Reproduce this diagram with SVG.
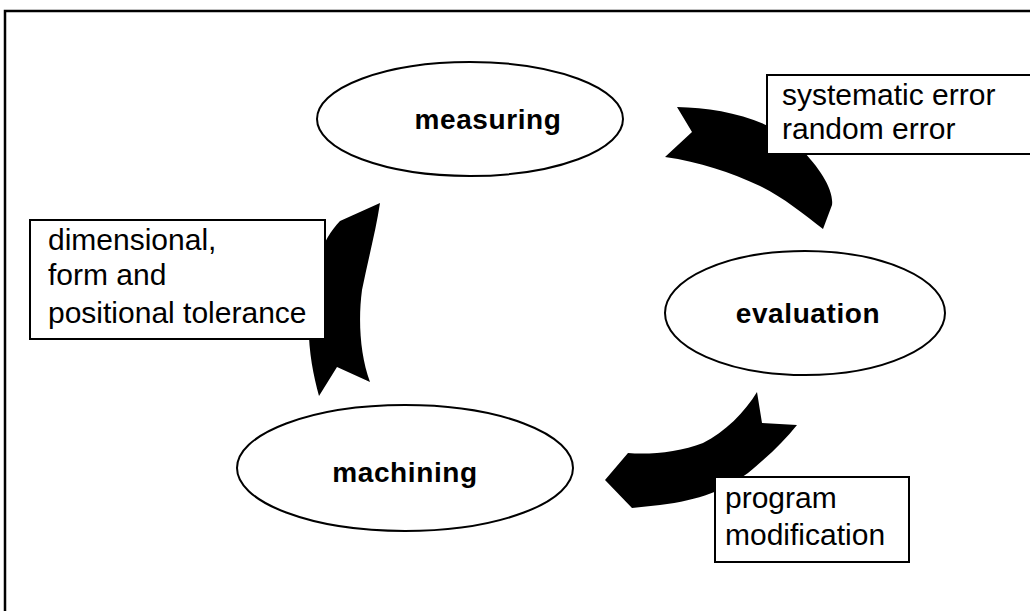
<svg xmlns="http://www.w3.org/2000/svg" width="1030" height="611" viewBox="0 0 1030 611">
<style>
.frame{fill:none;stroke:#000;stroke-width:2.5}
.node ellipse{fill:#fff;stroke:#000;stroke-width:2}
.node text{font-family:"Liberation Sans",Arial,sans-serif;font-weight:bold;font-size:28px;fill:#000;text-anchor:middle;letter-spacing:0.6px}
.lbl rect{fill:#fff;stroke:#000;stroke-width:2}
.lbl text{font-family:"Liberation Sans",Arial,sans-serif;font-size:30px;fill:#000}
.arrow{fill:#000;stroke:none}
</style>
<rect width="1030" height="611" fill="#fff"/>
<path class="frame" d="M5,611 L5,11 L1030,11"/>
<g id="connectors">
<path class="arrow" d="M677,107 C720,108 770,118 800,148 C820,168 834,190 832,205 L823,229 C805,215 780,195 760,186 C730,172 700,162 665,157 L692,132 Z"/>
<path class="arrow" d="M757,392 L762,423 L797,425 C785,440 770,455 748,473 C725,490 700,500 660,505 L632,508 L605,480 L628,453 C650,455 680,452 703,443 C725,432 745,412 757,392 Z"/>
<path class="arrow" d="M340,221 L380,203 C376,230 368,260 362,290 C358,320 360,355 370,382 L337,367 L319,396 C312,370 306,340 310,300 C314,265 322,240 340,221 Z"/>
</g>
<g id="measuring" class="node">
<ellipse cx="470" cy="119" rx="153" ry="57"/>
<text x="488" y="129">measuring</text>
</g>
<g id="evaluation" class="node">
<ellipse cx="805" cy="313" rx="140" ry="62"/>
<text x="808" y="323">evaluation</text>
</g>
<g id="machining" class="node">
<ellipse cx="405" cy="468" rx="168" ry="63"/>
<text x="405" y="482">machining</text>
</g>
<g id="label-errors" class="lbl">
<rect x="767" y="75" width="275" height="79"/>
<text x="782" y="105">systematic error</text>
<text x="782" y="139">random error</text>
</g>
<g id="label-tolerance" class="lbl">
<rect x="30" y="220" width="295" height="119"/>
<text x="48" y="250">dimensional,</text>
<text x="48" y="285">form and</text>
<text x="48" y="323">positional tolerance</text>
</g>
<g id="label-program" class="lbl">
<rect x="715" y="477" width="194" height="85"/>
<text x="725" y="508">program</text>
<text x="725" y="545">modification</text>
</g>
</svg>
